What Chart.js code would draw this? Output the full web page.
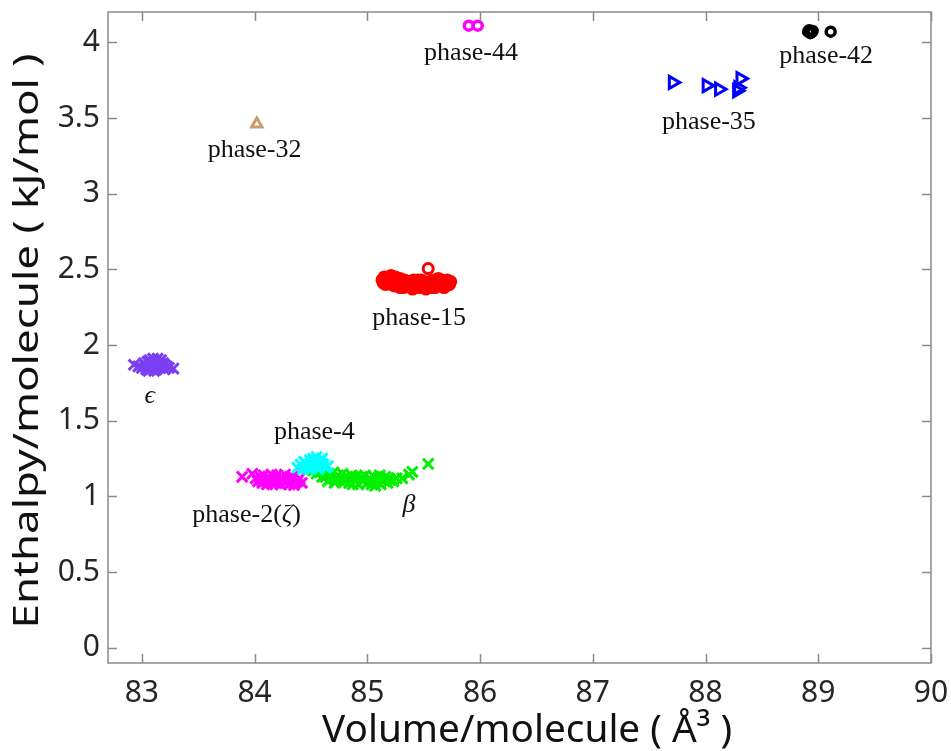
<!DOCTYPE html>
<html>
<head>
<meta charset="utf-8">
<script src="https://cdn.jsdelivr.net/npm/chart.js@4.4.0/dist/chart.umd.min.js"></script>
<style>
  html, body { margin: 0; padding: 0; background: #fff; }
  canvas { display: block; }
</style>
</head>
<body>
<canvas id="phaseChart" width="951" height="751"></canvas>
<script>
var xTicks = [83, 84, 85, 86, 87, 88, 89, 90];
var yTicks = [0, 0.5, 1, 1.5, 2, 2.5, 3, 3.5, 4];
var xTitle = 'Volume/molecule ( \u00c5\u00b3 )';
var yTitle = 'Enthalpy/molecule ( kJ/mol )';

// epsilon
var epsVol = [82.93, 82.97, 83.00, 83.02, 83.04, 83.05, 83.06, 83.07, 83.08, 83.09, 83.10, 83.11, 83.12, 83.13, 83.14, 83.15,
              83.16, 83.17, 83.18, 83.19, 83.20, 83.22, 83.24, 83.28, 83.03, 83.08, 83.12, 83.16, 83.20, 83.11, 83.06, 83.14];
var epsEnth = [1.87, 1.86, 1.85, 1.88, 1.84, 1.89, 1.86, 1.90, 1.84, 1.88, 1.91, 1.85, 1.89, 1.84, 1.91, 1.87,
               1.85, 1.90, 1.86, 1.88, 1.84, 1.86, 1.85, 1.845, 1.86, 1.87, 1.86, 1.88, 1.87, 1.83, 1.83, 1.86];

// phase-2 (zeta)
var zetaVol = [83.89, 83.98, 84.01, 84.03, 84.05, 84.07, 84.08, 84.10, 84.11, 84.12, 84.14, 84.15, 84.16, 84.18, 84.19, 84.20,
               84.22, 84.23, 84.24, 84.26, 84.27, 84.28, 84.30, 84.31, 84.33, 84.34, 84.36, 84.38, 84.40, 84.42, 84.06, 84.13,
               84.21, 84.29, 84.35, 84.17, 84.25];
var zetaEnth = [1.13, 1.15, 1.12, 1.10, 1.13, 1.09, 1.14, 1.11, 1.08, 1.13, 1.10, 1.145, 1.08, 1.12, 1.09, 1.14,
                1.11, 1.08, 1.13, 1.10, 1.145, 1.09, 1.12, 1.08, 1.11, 1.13, 1.09, 1.10, 1.12, 1.09, 1.11, 1.12,
                1.10, 1.11, 1.075, 1.10, 1.12];

// phase-4
var p4Vol = [84.38, 84.41, 84.43, 84.45, 84.47, 84.49, 84.50, 84.52, 84.53, 84.55, 84.56, 84.58, 84.59, 84.61, 84.63, 84.65,
             84.44, 84.48, 84.54, 84.57, 84.60, 84.51];
var p4Enth = [1.19, 1.21, 1.18, 1.22, 1.20, 1.24, 1.19, 1.25, 1.22, 1.26, 1.20, 1.24, 1.22, 1.21, 1.19, 1.20,
              1.23, 1.18, 1.20, 1.18, 1.25, 1.21];

// beta
var betaVol = [84.52, 84.55, 84.58, 84.60, 84.63, 84.66, 84.68, 84.70, 84.72, 84.74, 84.76, 84.78, 84.80, 84.82, 84.84, 84.86,
               84.88, 84.90, 84.92, 84.94, 84.96, 84.98, 85.00, 85.02, 85.04, 85.06, 85.08, 85.10, 85.12, 85.14, 85.16, 85.18,
               85.20, 85.23, 85.26, 85.31, 85.37, 85.40, 85.54, 84.71, 84.79, 84.87, 84.95, 85.03, 85.11, 85.19, 84.65, 84.83, 85.07];
var betaEnth = [1.17, 1.15, 1.16, 1.13, 1.13, 1.15, 1.12, 1.16, 1.11, 1.14, 1.12, 1.15, 1.10, 1.13, 1.09, 1.14,
                1.11, 1.13, 1.08, 1.12, 1.10, 1.14, 1.09, 1.12, 1.08, 1.13, 1.10, 1.12, 1.08, 1.11, 1.13, 1.09,
                1.11, 1.10, 1.12, 1.12, 1.145, 1.163, 1.215, 1.09, 1.12, 1.08, 1.13, 1.11, 1.14, 1.12, 1.10, 1.11, 1.07];

// phase-15
var p15Vol = [85.13, 85.15, 85.17, 85.19, 85.21, 85.23, 85.25, 85.27, 85.29, 85.31, 85.33, 85.35, 85.37, 85.39, 85.41, 85.43,
              85.45, 85.47, 85.49, 85.51, 85.53, 85.55, 85.57, 85.59, 85.61, 85.63, 85.65, 85.67, 85.69, 85.71, 85.73, 85.16,
              85.20, 85.24, 85.28, 85.32, 85.36, 85.40, 85.44, 85.48, 85.52, 85.56, 85.60, 85.64, 85.68, 85.72, 85.54,
              85.14, 85.18, 85.22, 85.26, 85.30, 85.34, 85.38, 85.42, 85.46, 85.50, 85.58, 85.62, 85.66, 85.70, 85.74,
              85.17, 85.21, 85.25, 85.29, 85.33, 85.45, 85.49, 85.53, 85.57, 85.61, 85.65, 85.69];
var p15Enth = [2.43, 2.45, 2.41, 2.44, 2.46, 2.42, 2.45, 2.40, 2.44, 2.41, 2.43, 2.39, 2.42, 2.40, 2.43, 2.38,
               2.41, 2.39, 2.42, 2.38, 2.40, 2.42, 2.38, 2.43, 2.40, 2.44, 2.39, 2.42, 2.41, 2.43, 2.40, 2.40,
               2.42, 2.39, 2.42, 2.38, 2.41, 2.37, 2.40, 2.43, 2.37, 2.40, 2.38, 2.41, 2.38, 2.40, 2.505,
               2.41, 2.43, 2.44, 2.43, 2.40, 2.42, 2.39, 2.41, 2.38, 2.40, 2.41, 2.39, 2.43, 2.39, 2.42,
               2.44, 2.40, 2.42, 2.38, 2.39, 2.43, 2.39, 2.38, 2.41, 2.42, 2.41, 2.40];

// phase-32
var p32Vol = [84.02];
var p32Enth = [3.46];

// phase-44
var p44Vol = [85.90, 85.98];
var p44Enth = [4.11, 4.11];

// phase-35
var p35Vol = [87.71, 88.01, 88.12, 88.28, 88.31, 88.29];
var p35Enth = [3.735, 3.714, 3.69, 3.68, 3.76, 3.70];

// phase-42
var p42Vol = [88.91, 88.93, 88.95, 88.92, 88.94, 89.11];
var p42Enth = [4.07, 4.06, 4.075, 4.08, 4.065, 4.07];

var phaseLabels = [
    {text: ['phase-44'], x: 85.92, y: 3.93},
    {text: ['phase-42'], x: 89.07, y: 3.91},
    {text: ['phase-35'], x: 88.03, y: 3.47},
    {text: ['phase-32'], x: 84.00, y: 3.29},
    {text: ['phase-15'], x: 85.46, y: 2.18},
    {text: ['', '\u03f5'], x: 83.07, y: 1.66},
    {text: ['phase-4'], x: 84.53, y: 1.425},
    {text: ['phase-2(', '\u03b6', ')'], x: 83.93, y: 0.877},
    {text: ['', '\u03b2'], x: 85.37, y: 0.943}
];

function pts(xs, ys) {
    return xs.map(function (x, i) { return {x: x, y: ys[i]}; });
}

function markerSet(label, data, style, color, radius, width, fill, rotation) {
    return {
        label: label,
        data: data,
        pointStyle: style,
        pointRadius: radius,
        pointHoverRadius: radius,
        pointBorderWidth: width,
        pointBorderColor: color,
        pointBackgroundColor: fill,
        pointRotation: rotation || 0
    };
}

var serif = "'Liberation Serif', 'DejaVu Serif', serif";
var clear = 'rgba(255,255,255,0)';

var framePlugin = {
    id: 'frame',
    afterDraw: function (chart) {
        var ctx = chart.ctx, a = chart.chartArea;
        var xs = chart.scales.x, ys = chart.scales.y;
        ctx.save();
        ctx.strokeStyle = '#8a8a8a';
        ctx.lineWidth = 1.5;
        ctx.strokeRect(a.left, a.top, a.right - a.left, a.bottom - a.top);
        ctx.beginPath();
        xTicks.forEach(function (v) {
            var p = Math.round(xs.getPixelForValue(v)) + 0.5;
            ctx.moveTo(p, a.bottom); ctx.lineTo(p, a.bottom - 9);
            ctx.moveTo(p, a.top); ctx.lineTo(p, a.top + 9);
        });
        yTicks.forEach(function (v) {
            var p = Math.round(ys.getPixelForValue(v)) + 0.5;
            ctx.moveTo(a.left, p); ctx.lineTo(a.left + 9, p);
            ctx.moveTo(a.right, p); ctx.lineTo(a.right - 9, p);
        });
        ctx.stroke();

        // axis titles (stretched a little, as in the original figure)
        ctx.fillStyle = '#111';
        ctx.textAlign = 'center';
        ctx.textBaseline = 'alphabetic';
        ctx.font = "38px 'Noto Sans'";
        var wx = ctx.measureText(xTitle).width;
        ctx.save();
        ctx.translate(527, 742);
        ctx.scale(410 / wx, 1);
        ctx.fillText(xTitle, 0, 0);
        ctx.restore();

        ctx.font = "34px 'Noto Sans'";
        var wy = ctx.measureText(yTitle).width;
        ctx.save();
        ctx.translate(38, 341);
        ctx.rotate(-Math.PI / 2);
        ctx.scale(575 / wy, 1);
        ctx.fillText(yTitle, 0, 0);
        ctx.restore();

        // phase labels, parts alternate upright / italic
        ctx.textBaseline = 'middle';
        ctx.textAlign = 'left';
        phaseLabels.forEach(function (l) {
            var fonts = l.text.map(function (t, i) {
                return (i % 2 ? 'italic ' : '') + '26px ' + serif;
            });
            var total = 0;
            l.text.forEach(function (t, i) { ctx.font = fonts[i]; total += ctx.measureText(t).width; });
            var px = xs.getPixelForValue(l.x) - total / 2;
            var py = ys.getPixelForValue(l.y);
            l.text.forEach(function (t, i) {
                ctx.font = fonts[i];
                ctx.fillText(t, px, py);
                px += ctx.measureText(t).width;
            });
        });
        ctx.restore();
    }
};

var ctx = document.getElementById('phaseChart').getContext('2d');
new Chart(ctx, {
    type: 'scatter',
    data: {
        datasets: [
            markerSet('phase-4', pts(p4Vol, p4Enth), 'crossRot', '#00ffff', 7.5, 3, '#00ffff'),
            markerSet('phase-2', pts(zetaVol, zetaEnth), 'crossRot', '#ff00ff', 7.5, 3, '#ff00ff'),
            markerSet('beta', pts(betaVol, betaEnth), 'crossRot', '#00f000', 7.5, 3, '#00f000'),
            markerSet('epsilon', pts(epsVol, epsEnth), 'crossRot', '#7b3ff2', 7.5, 3, '#7b3ff2'),
            markerSet('phase-15', pts(p15Vol, p15Enth), 'circle', '#ff0000', 5, 3, clear),
            markerSet('phase-32', pts(p32Vol, p32Enth), 'triangle', '#c99d6b', 6, 3, clear),
            markerSet('phase-44', pts(p44Vol, p44Enth), 'circle', '#ff00ff', 4.5, 3.5, clear),
            markerSet('phase-35', pts(p35Vol, p35Enth), 'triangle', '#0000ff', 7, 3, clear, 90),
            markerSet('phase-42', pts(p42Vol, p42Enth), 'circle', '#000000', 4.5, 3.5, clear)
        ]
    },
    options: {
        responsive: false,
        animation: false,
        layout: {padding: {top: 12, right: 20, left: 0, bottom: 0}},
        plugins: {legend: {display: false}, tooltip: {enabled: false}},
        scales: {
            x: {
                type: 'linear',
                min: 82.7,
                max: 90,
                afterBuildTicks: function (s) { s.ticks = xTicks.map(function (v) { return {value: v}; }); },
                afterFit: function (s) { s.height = 88; s.paddingLeft = 0; s.paddingRight = 0; },
                grid: {display: false, drawTicks: false},
                border: {display: false},
                ticks: {
                    padding: 12,
                    color: '#262626',
                    font: {family: "'Noto Sans'", size: 30},
                    maxRotation: 0,
                    callback: function (v) { return String(v); }
                }
            },
            y: {
                type: 'linear',
                min: -0.1,
                max: 4.2,
                afterBuildTicks: function (s) { s.ticks = yTicks.map(function (v) { return {value: v}; }); },
                afterFit: function (s) { s.width = 108; s.paddingTop = 0; s.paddingBottom = 0; },
                grid: {display: false, drawTicks: false},
                border: {display: false},
                ticks: {
                    padding: 8,
                    color: '#262626',
                    font: {family: "'Noto Sans'", size: 30},
                    callback: function (v) { return String(v); }
                }
            }
        }
    },
    plugins: [framePlugin]
});
</script>
</body>
</html>
